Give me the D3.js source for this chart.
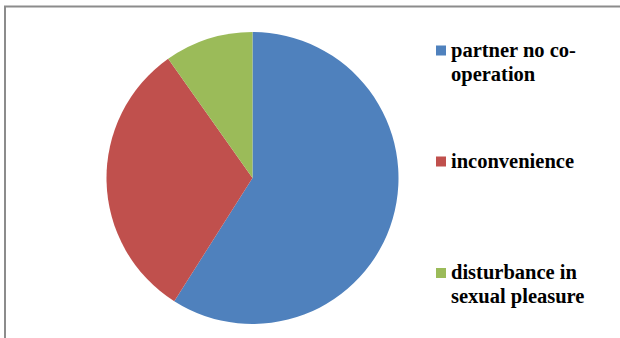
<!DOCTYPE html>
<html>
<head>
<meta charset="utf-8">
<script src="https://cdn.jsdelivr.net/npm/d3@7"></script>
</head>
<body style="margin:0">
<svg id="chart" width="620" height="338"></svg>
<script>
// Reasons given, share of responses (%)
const categories = ["partner no co-operation", "inconvenience", "disturbance in sexual pleasure"];
const values = [59, 31.2, 9.8];
const colors = ["#4F81BD", "#C0504D", "#9BBB59"];
// Legend text, wrapped as shown
const legendLines = [["partner no co-", "operation"], ["inconvenience"], ["disturbance in", "sexual pleasure"]];

const svg = d3.select("#chart");

// Chart frame (top and left edges)
svg.append("path")
  .attr("d", "M5,338 V6.5 H620")
  .attr("fill", "none")
  .attr("stroke", "#8c8c8c")
  .attr("stroke-width", 2);

const cx = 252.5, cy = 178, r = 146;

const pie = d3.pie().sort(null).value(d => d.value);
const arc = d3.arc().innerRadius(0).outerRadius(r);
const data = categories.map((c, i) => ({ name: c, value: values[i], color: colors[i] }));

svg.append("g")
  .attr("transform", `translate(${cx},${cy})`)
  .selectAll("path")
  .data(pie(data))
  .join("path")
  .attr("d", arc)
  .attr("fill", d => d.data.color);

// Legend: one swatch per slice, label lines as separate text elements
const legendY = [45.5, 156.5, 268];
data.forEach((d, i) => {
  svg.append("rect")
    .attr("x", 436).attr("y", legendY[i])
    .attr("width", 10).attr("height", 10)
    .attr("fill", d.color);
  legendLines[i].forEach((line, j) => {
    svg.append("text")
      .attr("x", 451)
      .attr("y", legendY[i] + 11 + j * 24)
      .style("font-family", '"Liberation Serif", "Tinos", "Times New Roman", serif')
      .style("font-weight", "bold")
      .style("font-size", "20.5px")
      .text(line);
  });
});
</script>
</body>
</html>
